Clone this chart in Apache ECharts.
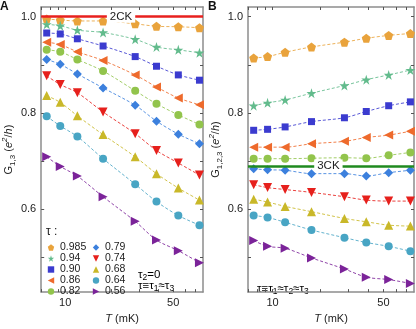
<!DOCTYPE html>
<html>
<head>
<meta charset="utf-8">
<script src="https://cdn.jsdelivr.net/npm/echarts@6/dist/echarts.min.js"></script>
<style>
  html, body { margin: 0; padding: 0; background: #fff; }
  #chart { width: 416px; height: 329px; }
</style>
</head>
<body>
<div id="chart"></div>
<script>
// temperatures (mK)
const temps = [7.6, 9.3, 12, 17.6, 28.4, 39, 54, 74];
const tauLabels = ['0.985', '0.94', '0.90', '0.86', '0.82', '0.79', '0.74', '0.68', '0.64', '0.56'];

// panel A : G1,3
const a0985 = [0.995, 0.993, 0.991, 0.991, 0.985, 0.980, 0.979, 0.977];
const a094 = [0.984, 0.981, 0.972, 0.967, 0.953, 0.937, 0.931, 0.925];
const a090 = [0.966, 0.964, 0.954, 0.939, 0.917, 0.897, 0.879, 0.868];
const a086 = [0.947, 0.942, 0.927, 0.909, 0.879, 0.854, 0.831, 0.817];
const a082 = [0.931, 0.927, 0.911, 0.887, 0.846, 0.819, 0.796, 0.776];
const a079 = [0.911, 0.901, 0.881, 0.852, 0.816, 0.783, 0.756, 0.736];
const a074 = [0.877, 0.859, 0.842, 0.802, 0.757, 0.722, 0.696, 0.671];
const a068 = [0.836, 0.822, 0.794, 0.755, 0.709, 0.674, 0.644, 0.619];
const a064 = [0.793, 0.773, 0.751, 0.705, 0.652, 0.616, 0.587, 0.567];
const a056 = [0.709, 0.689, 0.669, 0.626, 0.575, 0.536, 0.514, 0.489];

// panel B : G1,2,3
const b0985 = [0.914, 0.917, 0.926, 0.937, 0.947, 0.955, 0.961, 0.965];
const b094 = [0.815, 0.821, 0.827, 0.841, 0.857, 0.869, 0.879, 0.889];
const b090 = [0.764, 0.766, 0.771, 0.782, 0.790, 0.803, 0.815, 0.823];
const b086 = [0.729, 0.729, 0.729, 0.736, 0.741, 0.749, 0.754, 0.762];
const b082 = [0.705, 0.705, 0.705, 0.706, 0.707, 0.706, 0.712, 0.718];
const b079 = [0.684, 0.682, 0.681, 0.674, 0.674, 0.669, 0.676, 0.681];
const b074 = [0.651, 0.645, 0.641, 0.635, 0.626, 0.619, 0.617, 0.617];
const b068 = [0.621, 0.615, 0.606, 0.595, 0.581, 0.574, 0.567, 0.565];
const b064 = [0.587, 0.583, 0.573, 0.557, 0.541, 0.531, 0.523, 0.513];
const b056 = [0.535, 0.523, 0.519, 0.499, 0.476, 0.459, 0.454, 0.446];

const yTickLabels = [0.6, 0.8, 1.0];
const yTicks = [0.5, 0.6, 0.7, 0.8, 0.9, 1.0];
const xTickLabels = [10, 50];
const xTicks = [7, 8, 9, 10, 20, 30, 40, 50, 60, 70];
const g2CK = 1.0;
const g3CK = 0.691;

const panelA = [a0985, a094, a090, a086, a082, a079, a074, a068, a064, a056];
const panelB = [b0985, b094, b090, b086, b082, b079, b074, b068, b064, b056];

const colors = ['#e9a33c', '#62bb8c', '#3b3bcf', '#ee6a2c', '#92c44c',
                '#3c80dd', '#e6201c', '#c9b829', '#48a5c4', '#7b2399'];
const pentagon = 'path://M0,-1L0.951,-0.309L0.588,0.809L-0.588,0.809L-0.951,-0.309Z';
const star = 'path://M0,-1L0.225,-0.309L0.951,-0.309L0.363,0.118L0.588,0.809L0,0.382L-0.588,0.809L-0.363,0.118L-0.951,-0.309L-0.225,-0.309Z';
// symbol, size, rotate
const marks = [
  [pentagon, 9, 0], [star, 10, 0], ['rect', 7, 0], ['triangle', 9, 90], ['circle', 8, 0],
  ['diamond', 9, 0], ['triangle', 9, 180], ['triangle', 9, 0], ['circle', 8, 0], ['triangle', 9, -90]
];

const font = '"Liberation Sans", Arial, sans-serif';
const axisGray = '#8d8d8d';

function xAx(grid, pos, showLabel) {
  return {
    type: 'log', gridIndex: grid, position: pos, min: 7, max: 78,
    name: showLabel ? '{i|T} (mK)' : '', nameLocation: 'middle', nameGap: 18,
    nameTextStyle: { fontFamily: font, fontSize: 11, color: '#222',
      rich: { i: { fontStyle: 'italic', fontFamily: font, fontSize: 11, color: '#222' } } },
    axisLine: { show: true, onZero: false, lineStyle: { color: axisGray, width: 1.5 } },
    axisTick: { show: true, inside: true, length: 3, customValues: xTicks, lineStyle: { color: '#555' } },
    axisLabel: { show: showLabel, customValues: xTickLabels, fontFamily: font, fontSize: 11, color: '#222', margin: 5 },
    splitLine: { show: false }, minorTick: { show: false }
  };
}
function yAx(grid, pos, showLabel, name) {
  return {
    type: 'value', gridIndex: grid, position: pos, min: 0.428, max: 1.02,
    name: showLabel ? name : '', nameLocation: 'middle', nameGap: 23, nameRotate: 90,
    nameTextStyle: { fontFamily: font, fontSize: 11, color: '#222', lineHeight: 16,
      rich: {
        n: { fontFamily: font, fontSize: 11, color: '#222', lineHeight: 16 },
        i: { fontFamily: font, fontSize: 11, color: '#222', fontStyle: 'italic', lineHeight: 16 },
        sub: { fontFamily: font, fontSize: 8, color: '#222', verticalAlign: 'bottom', lineHeight: 16 },
        sup: { fontFamily: font, fontSize: 8, color: '#222', fontStyle: 'italic', verticalAlign: 'top', lineHeight: 16 }
      } },
    axisLine: { show: true, onZero: false, lineStyle: { color: axisGray, width: 1.5 } },
    axisTick: { show: true, inside: true, length: 3, customValues: yTicks, lineStyle: { color: '#555' } },
    axisLabel: { show: showLabel, customValues: yTickLabels, formatter: v => v.toFixed(1),
      fontFamily: font, fontSize: 11, color: '#222', margin: 5 },
    splitLine: { show: false }
  };
}

const series = [];
function addPanel(data, xi, yi) {
  data.forEach((vals, k) => {
    series.push({
      name: tauLabels[k], type: 'line', xAxisIndex: xi, yAxisIndex: yi,
      data: temps.map((t, j) => [t, vals[j]]),
      symbol: marks[k][0], symbolSize: marks[k][1], symbolRotate: marks[k][2],
      smooth: 0.3, z: 3,
      itemStyle: { color: colors[k] },
      lineStyle: { color: colors[k], width: 1, type: [3, 2], opacity: 0.85 }
    });
  });
}
addPanel(panelA, 0, 0);
addPanel(panelB, 2, 2);

function refLine(value, color, xi, yi) {
  return {
    type: 'line', xAxisIndex: xi, yAxisIndex: yi, data: [], silent: true, z: 2,
    markLine: {
      silent: true, symbol: 'none', animation: false,
      data: [{ yAxis: value }],
      lineStyle: { color: color, width: 2.5, type: 'solid' },
      label: { show: false }
    }
  };
}
series.push(refLine(g2CK, '#e8201e', 0, 0));
series.push(refLine(g3CK, '#1f8a1f', 2, 2));

function legendCol(names, left) {
  return {
    data: names, orient: 'vertical', left: left, top: 242,
    itemWidth: 8, itemHeight: 8, itemGap: 0, padding: 0,
    selectedMode: false,
    lineStyle: { opacity: 0 },
    textStyle: { fontFamily: font, fontSize: 10.5, color: '#222', lineHeight: 10.8 }
  };
}

const sub = { fontFamily: font, fontSize: 8.5, color: '#222', verticalAlign: 'bottom', lineHeight: 15 };
const txt = { fontFamily: font, fontSize: 11.5, color: '#222', lineHeight: 15 };

const chart = echarts.init(document.getElementById('chart'));
chart.setOption({
  animation: false,
  backgroundColor: '#fff',
  grid: [
    { left: 37, right: 213, top: 7, bottom: 26 },
    { left: 248, right: 2, top: 7, bottom: 26 }
  ],
  xAxis: [xAx(0, 'bottom', true), xAx(0, 'top', false), xAx(1, 'bottom', true), xAx(1, 'top', false)],
  yAxis: [
    yAx(0, 'left', true, '{n|G}{sub|1,3}{n| (}{i|e}{sup|2}{n|/}{i|h}{n|)}'),
    yAx(0, 'right', false, ''),
    yAx(1, 'left', true, '{n|G}{sub|1,2,3}{n| (}{i|e}{sup|2}{n|/}{i|h}{n|)}'),
    yAx(1, 'right', false, '')
  ],
  legend: [legendCol(tauLabels.slice(0, 5), 46), legendCol(tauLabels.slice(5), 91)],
  series: series
});

// reference-line captions sit on the lines, placed through the axes
const p2 = chart.convertToPixel({ xAxisIndex: 0, yAxisIndex: 0 }, [23, g2CK]);
const p3 = chart.convertToPixel({ xAxisIndex: 2, yAxisIndex: 2 }, [22.5, g3CK]);
const capStyle = { font: '11.5px ' + font, fill: '#222', backgroundColor: '#fff',
  padding: [0, 3], align: 'center', verticalAlign: 'middle' };

chart.setOption({
  graphic: [
    { type: 'text', left: 0, top: 1, style: { text: 'A', font: 'bold 12px ' + font, fill: '#111' } },
    { type: 'text', left: 208, top: 1, style: { text: 'B', font: 'bold 12px ' + font, fill: '#111' } },
    { type: 'text', x: p2[0], y: p2[1], z: 10, style: Object.assign({ text: '2CK' }, capStyle) },
    { type: 'text', x: p3[0], y: p3[1], z: 10, style: Object.assign({ text: '3CK' }, capStyle) },
    { type: 'text', left: 46, top: 226, style: { text: 'τ :', font: '12px ' + font, fill: '#222' } },
    { type: 'text', left: 138, top: 269, style: { text: '{t|τ}{s|2}{t|=0}', rich: { t: txt, s: sub } } },
    { type: 'text', left: 138, top: 280, style: { text: '{t|τ≡τ}{s|1}{t|≈τ}{s|3}', rich: { t: txt, s: sub } } },
    { type: 'text', left: 257, top: 283, style: { text: '{t|τ≡τ}{s|1}{t|≈τ}{s|2}{t|≈τ}{s|3}', rich: { t: txt, s: sub } } }
  ]
});
</script>
</body>
</html>
